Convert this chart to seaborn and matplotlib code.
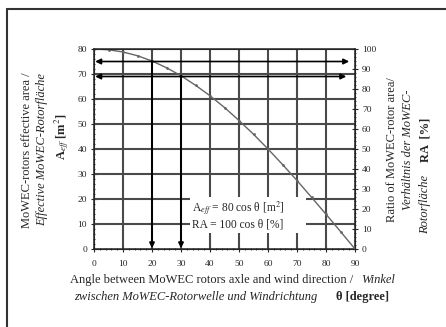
import numpy as np
import pandas as pd
import matplotlib.pyplot as plt
import seaborn as sns
from matplotlib.lines import Line2D
from matplotlib.patches import Rectangle

# values (A_eff = 80 cos theta)
theta = [0, 5, 10, 15, 20, 25, 30, 35, 40, 45, 50, 55, 60, 65, 70, 75, 80, 85, 90]
area = [80, 79.7, 78.8, 77.3, 75.2, 72.5, 69.3, 65.5, 61.3, 56.6, 51.4, 45.9, 40.0, 33.8, 27.4, 20.7, 13.9, 7.0, 0]
marked_angles = [20, 30]
x_ticks = list(range(0, 100, 10))
left_ticks = list(range(0, 90, 10))
right_ticks = list(range(0, 110, 10))

df = pd.DataFrame({'theta': theta, 'area': area})

sns.set_style('ticks')
plt.rcParams['font.family'] = ['Liberation Serif', 'DejaVu Serif']
plt.rcParams['mathtext.fontset'] = 'stix'

fig = plt.figure(figsize=(4.46, 3.27), dpi=100)
ax = fig.add_axes([94 / 446, 1 - 249 / 327, 261 / 446, 200 / 327])

grid_c = '#4a4a4a'
ax.set_xlim(0, 90)
ax.set_ylim(0, 80)
ax.set_xticks(x_ticks)
ax.set_yticks(left_ticks)
ax.set_xticks(np.arange(0, 91, 2), minor=True)
ax.set_yticks(np.arange(0, 81, 2), minor=True)
for v in x_ticks[1:-1]:
    ax.axvline(v, color=grid_c, lw=1.5, zorder=1)
for v in left_ticks[1:-1]:
    ax.axhline(v, color=grid_c, lw=1.5, zorder=1)

# white label box that interrupts the grid
ax.add_patch(Rectangle((33.0, 6.4), 40.0, 14.4, facecolor='white', edgecolor='none', zorder=2))

sns.lineplot(data=df, x='theta', y='area', ax=ax, color='#666666', lw=1.0,
             marker='o', markersize=2.0, markeredgewidth=0, zorder=3)

# double arrows at the two marked levels, vertical arrows down to the axis
for a in marked_angles:
    y = df.loc[df.theta == a, 'area'].iloc[0]
    yl = round(y)
    ax.annotate('', xy=(0.4, yl), xytext=(87 + (30 - a) * 0.1, yl),
                arrowprops=dict(arrowstyle='<|-|>', color='black', lw=1.2,
                                mutation_scale=8, shrinkA=0, shrinkB=0), zorder=4)
    ax.annotate('', xy=(a, 0.3), xytext=(a, y),
                arrowprops=dict(arrowstyle='-|>', color='black', lw=1.4,
                                mutation_scale=7, shrinkA=0, shrinkB=0), zorder=4)

ax.text(33.7, 16.0, r'A$_{eff}$ = 80 cos θ [m$^2$]', fontsize=8.3, va='center', zorder=5)
ax.text(33.7, 9.8, 'RA = 100 cos θ [%]', fontsize=8.3, va='center', zorder=5)

ax.set_xlabel('')
ax.set_ylabel('')
ax.tick_params(which='major', direction='inout', length=4, width=0.8, labelsize=6.8)
ax.tick_params(axis='x', pad=6)
ax.tick_params(axis='y', pad=3)
ax.tick_params(which='minor', direction='inout', length=2, width=0.6)
for s in ax.spines.values():
    s.set_linewidth(1.1)

ax2 = ax.twinx()
ax2.set_ylim(0, 100)
ax2.set_yticks(right_ticks)
ax2.set_yticks(np.arange(0, 101, 2), minor=True)
ax2.tick_params(which='major', direction='inout', length=4, width=0.8, labelsize=6.8, pad=3)
ax2.tick_params(which='minor', direction='inout', length=2, width=0.6)

fs = 9
# left axis label
fig.text(27 / 446, 1 - 150 / 327, 'MoWEC-rotors effective area /', rotation=90,
         ha='center', va='center', fontsize=fs)
fig.text(42 / 446, 1 - 150 / 327, 'Effective MoWEC-Rotorfläche', rotation=90,
         ha='center', va='center', fontsize=fs, style='italic')
fig.text(62 / 446, 1 - 137 / 327, r'A$_{eff}$ [m$^2$]', rotation=90,
         ha='center', va='center', fontsize=fs, weight='bold')

# right axis label
fig.text(392 / 446, 1 - 150 / 327, 'Ratio of MoWEC-rotor area/', rotation=90,
         ha='center', va='center', fontsize=fs)
fig.text(408 / 446, 1 - 150 / 327, 'Verhältnis der MoWEC-', rotation=90,
         ha='center', va='center', fontsize=fs, style='italic')
fig.text(425 / 446, 1 - 204 / 327, 'Rotorfläche', rotation=90,
         ha='center', va='center', fontsize=fs, style='italic')
fig.text(425 / 446, 1 - 140 / 327, 'RA  [%]', rotation=90,
         ha='center', va='center', fontsize=fs, weight='bold')

# x label
fig.text(70 / 446, 1 - 280 / 327, 'Angle between MoWEC rotors axle and wind direction /',
         ha='left', va='center', fontsize=fs)
fig.text(361 / 446, 1 - 280 / 327, 'Winkel', ha='left', va='center', fontsize=fs, style='italic')
fig.text(74 / 446, 1 - 297 / 327, 'zwischen MoWEC-Rotorwelle und Windrichtung',
         ha='left', va='center', fontsize=fs, style='italic')
fig.text(336 / 446, 1 - 297 / 327, 'θ [degree]', ha='left', va='center', fontsize=fs, weight='bold')

# outer frame (left and top edges visible)
fig.add_artist(Line2D([7 / 446, 7 / 446], [0, 1 - 9 / 327], color='#333333', lw=1.5))
fig.add_artist(Line2D([7 / 446, 1], [1 - 9 / 327, 1 - 9 / 327], color='#333333', lw=1.5))

fig.savefig('out.png', dpi=100)
